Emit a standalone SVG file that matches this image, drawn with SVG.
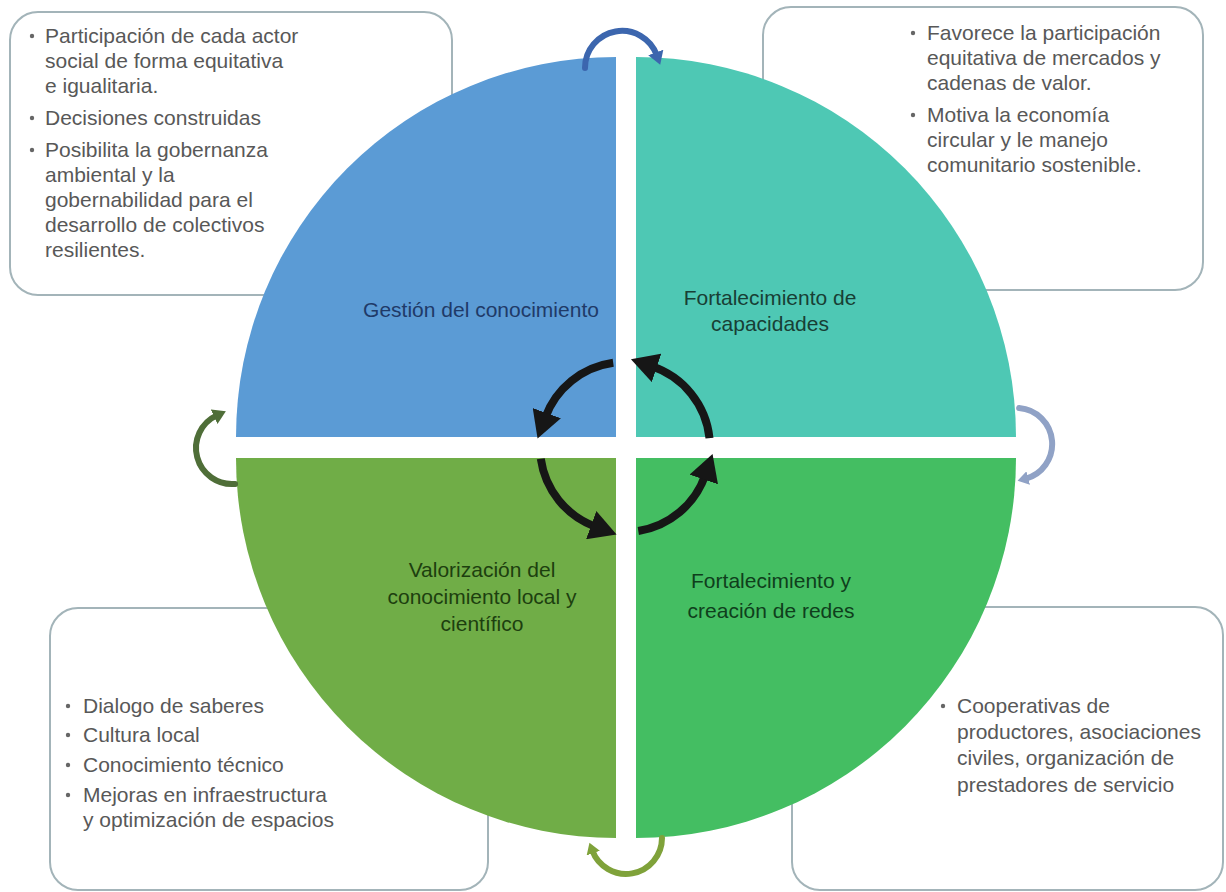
<svg xmlns="http://www.w3.org/2000/svg" width="1226" height="892" viewBox="0 0 1226 892">
  <style>
    .box { fill: #ffffff; stroke: #a3b4b9; stroke-width: 2; }
    .note { font-family: "Liberation Sans", Arial, sans-serif; font-size: 21px; fill: #585858; }
    .dot { fill: #666666; }
    .label { font-family: "Liberation Sans", Arial, sans-serif; font-size: 21px; text-anchor: middle; }
    .cycle { fill: none; stroke: #161616; stroke-width: 8; }
    .loop { fill: none; stroke-width: 6; stroke-linecap: round; }
  </style>
  <defs>
    <marker id="head" markerUnits="userSpaceOnUse" markerWidth="28" markerHeight="30" viewBox="0 0 28 30" refX="5" refY="15" orient="auto">
      <path d="M0,0 L27,15 L0,30 Z" fill="#161616"/>
    </marker>
    <marker id="headBlue" markerUnits="userSpaceOnUse" markerWidth="14" markerHeight="16" viewBox="0 0 14 16" refX="3" refY="8" orient="auto">
      <path d="M0,0 L13,8 L0,16 Z" fill="#3c66ae"/>
    </marker>
    <marker id="headOlive" markerUnits="userSpaceOnUse" markerWidth="14" markerHeight="16" viewBox="0 0 14 16" refX="3" refY="8" orient="auto">
      <path d="M0,0 L13,8 L0,16 Z" fill="#4f6e38"/>
    </marker>
    <marker id="headGrey" markerUnits="userSpaceOnUse" markerWidth="12" markerHeight="14" viewBox="0 0 12 14" refX="3" refY="7" orient="auto">
      <path d="M0,0 L11,7 L0,14 Z" fill="#90a2c6"/>
    </marker>
    <marker id="headGreen" markerUnits="userSpaceOnUse" markerWidth="12" markerHeight="14" viewBox="0 0 12 14" refX="3" refY="7" orient="auto">
      <path d="M0,0 L11,7 L0,14 Z" fill="#7fa23a"/>
    </marker>
  </defs>

  <rect width="1226" height="892" fill="#ffffff"/>

  <!-- note boxes (behind the circle) -->
  <g id="note-top-left">
    <rect class="box" x="10" y="12" width="442" height="283" rx="28"/>
    <circle class="dot" cx="32" cy="36" r="2.2"/>
    <circle class="dot" cx="32" cy="118" r="2.2"/>
    <circle class="dot" cx="32" cy="150" r="2.2"/>
    <text class="note" x="45" y="43">Participación de cada actor</text>
    <text class="note" x="45" y="68">social de forma equitativa</text>
    <text class="note" x="45" y="93">e igualitaria.</text>
    <text class="note" x="45" y="125">Decisiones construidas</text>
    <text class="note" x="45" y="157">Posibilita la gobernanza</text>
    <text class="note" x="45" y="182">ambiental y la</text>
    <text class="note" x="45" y="207">gobernabilidad para el</text>
    <text class="note" x="45" y="232">desarrollo de colectivos</text>
    <text class="note" x="45" y="257">resilientes.</text>
  </g>

  <g id="note-top-right">
    <rect class="box" x="763" y="7" width="440" height="283" rx="28"/>
    <circle class="dot" cx="913" cy="33" r="2.2"/>
    <circle class="dot" cx="913" cy="115" r="2.2"/>
    <text class="note" x="927" y="40">Favorece la participación</text>
    <text class="note" x="927" y="65">equitativa de mercados y</text>
    <text class="note" x="927" y="90">cadenas de valor.</text>
    <text class="note" x="927" y="122">Motiva la economía</text>
    <text class="note" x="927" y="147">circular y le manejo</text>
    <text class="note" x="927" y="172">comunitario sostenible.</text>
  </g>

  <g id="note-bottom-left">
    <rect class="box" x="50" y="608" width="438" height="282" rx="28"/>
    <circle class="dot" cx="68" cy="706" r="2.2"/>
    <circle class="dot" cx="68" cy="735" r="2.2"/>
    <circle class="dot" cx="68" cy="765" r="2.2"/>
    <circle class="dot" cx="68" cy="795" r="2.2"/>
    <text class="note" x="83" y="713">Dialogo de saberes</text>
    <text class="note" x="83" y="742">Cultura local</text>
    <text class="note" x="83" y="772">Conocimiento técnico</text>
    <text class="note" x="83" y="802">Mejoras en infraestructura</text>
    <text class="note" x="83" y="827">y optimización de espacios</text>
  </g>

  <g id="note-bottom-right">
    <rect class="box" x="792" y="607" width="431" height="283" rx="28"/>
    <circle class="dot" cx="943" cy="706" r="2.2"/>
    <text class="note" x="957" y="713">Cooperativas de</text>
    <text class="note" x="957" y="739">productores, asociaciones</text>
    <text class="note" x="957" y="765">civiles, organización de</text>
    <text class="note" x="957" y="792">prestadores de servicio</text>
  </g>

  <!-- four quarters of the circle -->
  <g id="q-gestion">
    <path d="M616,437 L616,57 A380,380 0 0 0 236,437 Z" fill="#5b9bd5"/>
    <text class="label" x="481" y="317" fill="#1f3a68">Gestión del conocimiento</text>
  </g>
  <g id="q-capacidades">
    <path d="M636,437 L636,57 A380,380 0 0 1 1016,437 Z" fill="#4ec8b4"/>
    <text class="label" x="770" y="305" fill="#183f35">Fortalecimiento de</text>
    <text class="label" x="770" y="331" fill="#183f35">capacidades</text>
  </g>
  <g id="q-valorizacion">
    <path d="M616,458 L236,458 A380,380 0 0 0 616,838 Z" fill="#70ad47"/>
    <text class="label" x="482" y="577" fill="#1d3f0f">Valorización del</text>
    <text class="label" x="482" y="604" fill="#1d3f0f">conocimiento local y</text>
    <text class="label" x="482" y="631" fill="#1d3f0f">científico</text>
  </g>
  <g id="q-redes">
    <path d="M636,458 L636,838 A380,380 0 0 0 1016,458 Z" fill="#44be62"/>
    <text class="label" x="771" y="588" fill="#0f3f1c">Fortalecimiento y</text>
    <text class="label" x="771" y="618" fill="#0f3f1c">creación de redes</text>
  </g>

  <!-- connectors -->
  <g id="connectors">
    <!-- central cycle -->
    <path class="cycle" d="M613.2,362.8 A85,85 0 0 0 545.1,417.9" marker-end="url(#head)"/>
    <path class="cycle" d="M540.8,458.8 A85,85 0 0 0 595.9,526.9" marker-end="url(#head)"/>
    <path class="cycle" d="M638.3,531.0 A85,85 0 0 0 705.4,474.7" marker-end="url(#head)"/>
    <path class="cycle" d="M709.5,438.1 A85,85 0 0 0 651.8,366.3" marker-end="url(#head)"/>
    <!-- outer loops around the rim -->
    <path class="loop" stroke="#3c66ae" d="M585,68 A37,37 0 0 1 656.8,55.3" marker-end="url(#headBlue)"/>
    <path class="loop" stroke="#90a2c6" stroke-width="5" d="M1019.1,408.1 A36,36 0 0 1 1025.3,478.8" marker-end="url(#headGrey)"/>
    <path class="loop" stroke="#7fa23a" d="M662,838 A36,36 0 0 1 592.2,850.3" marker-end="url(#headGreen)"/>
    <path class="loop" stroke="#4f6e38" d="M235.1,483.9 A36,36 0 0 1 216.8,415.4" marker-end="url(#headOlive)"/>
  </g>
</svg>
